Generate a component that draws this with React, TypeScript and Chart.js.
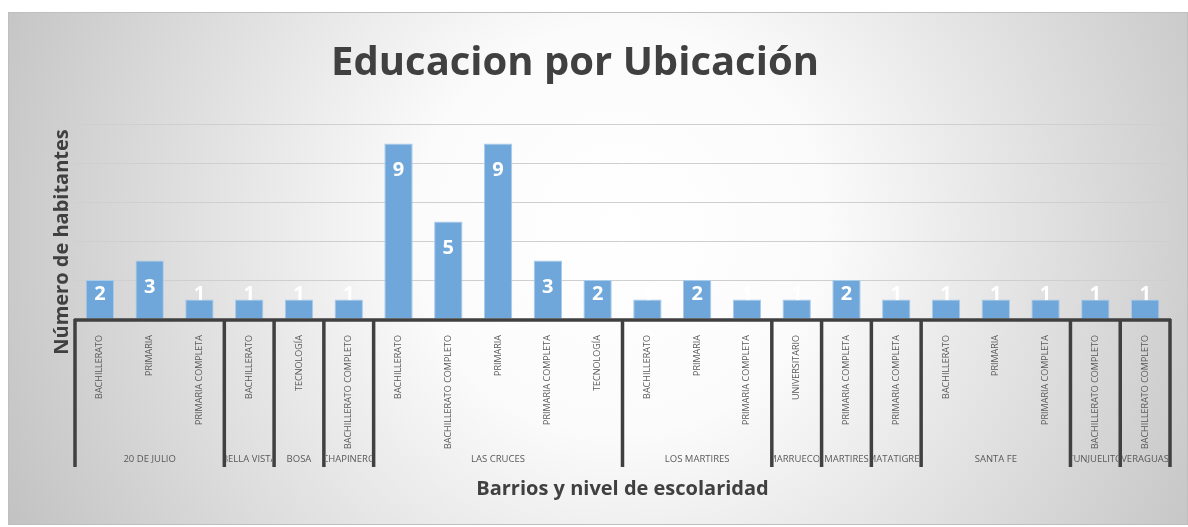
import React, { useEffect, useRef } from "react";
import { Chart, registerables } from "chart.js";

Chart.register(...registerables);

const chartTitle = "Educacion por Ubicación";
const yAxisTitle = "Número de habitantes";
const xAxisTitle = "Barrios y nivel de escolaridad";

const barrios = [
  "20 DE JULIO",
  "BELLA VISTA",
  "BOSA",
  "CHAPINERO",
  "LAS CRUCES",
  "LOS MARTIRES",
  "MARRUECOS",
  "MARTIRES",
  "MATATIGRES",
  "SANTA FE",
  "TUNJUELITO",
  "VERAGUAS",
];
const barriosSize = [3, 1, 1, 1, 5, 3, 1, 1, 1, 3, 1, 1];

const niveles = [
  "BACHILLERATO",
  "PRIMARIA",
  "PRIMARIA COMPLETA",
  "BACHILLERATO",
  "TECNOLOGÍA",
  "BACHILLERATO COMPLETO",
  "BACHILLERATO",
  "BACHILLERATO COMPLETO",
  "PRIMARIA",
  "PRIMARIA COMPLETA",
  "TECNOLOGÍA",
  "BACHILLERATO",
  "PRIMARIA",
  "PRIMARIA COMPLETA",
  "UNIVERSITARIO",
  "PRIMARIA COMPLETA",
  "PRIMARIA COMPLETA",
  "BACHILLERATO",
  "PRIMARIA",
  "PRIMARIA COMPLETA",
  "BACHILLERATO COMPLETO",
  "BACHILLERATO COMPLETO",
];
const habitantes = [2, 3, 1, 1, 1, 1, 9, 5, 9, 3, 2, 1, 2, 1, 1, 2, 1, 1, 1, 1, 1, 1];

const yMin = 0;
const yMax = 10;
const yStep = 2;

const FONT = "'Open Sans', 'DejaVu Sans', sans-serif";
const W = 1180;
const H = 513;

const framePlugin = {
  id: "frame",
  beforeDraw(chart: any) {
    const { ctx, width, height } = chart;
    ctx.save();
    const g = ctx.createRadialGradient(612, 218, 0, 612, 218, 680);
    g.addColorStop(0, "#ffffff");
    g.addColorStop(0.3, "#fbfbfb");
    g.addColorStop(1, "#c2c2c2");
    ctx.fillStyle = g;
    ctx.fillRect(0, 0, width, height);
    ctx.strokeStyle = "#bfbfbf";
    ctx.lineWidth = 1;
    ctx.strokeRect(0.5, 0.5, width - 1, height - 1);
    ctx.restore();
  },
};

const labelsPlugin = {
  id: "barLabels",
  afterDatasetsDraw(chart: any) {
    const { ctx } = chart;
    const meta = chart.getDatasetMeta(0);
    ctx.save();
    ctx.fillStyle = "#ffffff";
    ctx.font = `bold 20px ${FONT}`;
    ctx.textAlign = "center";
    ctx.textBaseline = "middle";
    meta.data.forEach((bar: any, i: number) => {
      const y = Math.min(bar.y + 27, bar.base - 24);
      ctx.fillText(String(habitantes[i]), bar.x, y);
    });
    ctx.restore();
  },
};

const axisPlugin = {
  id: "multiAxis",
  afterDraw(chart: any) {
    const { ctx, chartArea } = chart;
    const xs = chart.scales.x;
    const n = niveles.length;
    const half = (chartArea.right - chartArea.left) / n / 2;
    const boundary = (k: number) => {
      if (k <= 0) return chartArea.left;
      if (k >= n) return chartArea.right;
      return xs.getPixelForValue(k) - half;
    };
    ctx.save();
    ctx.strokeStyle = "#404040";
    ctx.lineWidth = 3.5;
    ctx.beginPath();
    ctx.moveTo(chartArea.left - 1, chartArea.bottom + 1);
    ctx.lineTo(chartArea.right + 1, chartArea.bottom + 1);
    ctx.stroke();

    const sepBottom = 455;
    let k = 0;
    const bounds: number[] = [boundary(0)];
    barriosSize.forEach((s) => {
      k += s;
      bounds.push(boundary(k));
    });
    ctx.lineWidth = 3.5;
    bounds.forEach((bx) => {
      ctx.beginPath();
      ctx.moveTo(bx, chartArea.bottom);
      ctx.lineTo(bx, sepBottom);
      ctx.stroke();
    });

    ctx.font = `9.5px ${FONT}`;
    ctx.fillStyle = "#595959";
    ctx.textAlign = "center";
    ctx.textBaseline = "middle";
    barrios.forEach((b, i) => {
      const x0 = bounds[i] + 2;
      const x1 = bounds[i + 1] - 2;
      ctx.save();
      ctx.beginPath();
      ctx.rect(x0, chartArea.bottom, x1 - x0, sepBottom - chartArea.bottom);
      ctx.clip();
      ctx.fillText(b, (bounds[i] + bounds[i + 1]) / 2, 447);
      ctx.restore();
    });

    // titles
    ctx.fillStyle = "#404040";
    ctx.textAlign = "center";
    ctx.font = `bold 40px ${FONT}`;
    ctx.textBaseline = "alphabetic";
    ctx.fillText(chartTitle, 567, 63);

    ctx.font = `bold 20px ${FONT}`;
    ctx.textBaseline = "middle";
    ctx.fillText(xAxisTitle, (chartArea.left + chartArea.right) / 2, 477);

    ctx.save();
    ctx.translate(54, 230);
    ctx.rotate(-Math.PI / 2);
    ctx.font = `bold 20px ${FONT}`;
    ctx.fillText(yAxisTitle, 0, 0);
    ctx.restore();

    ctx.restore();
  },
};

export default function App() {
  const ref = useRef<HTMLCanvasElement>(null);
  useEffect(() => {
    const chart = new Chart(ref.current as HTMLCanvasElement, {
      type: "bar",
      data: {
        labels: niveles,
        datasets: [
          {
            data: habitantes,
            backgroundColor: "#70a7da",
            borderColor: "#a9cbea",
            borderWidth: 1,
            barPercentage: 0.57,
            categoryPercentage: 1,
          },
        ],
      },
      options: {
        responsive: false,
        animation: false,
        devicePixelRatio: 1,
        layout: { padding: { left: 67, right: 18, top: 112, bottom: 0 } },
        plugins: {
          legend: { display: false },
          tooltip: { enabled: false },
          title: { display: false },
        },
        scales: {
          x: {
            grid: { display: false },
            border: { display: false },
            ticks: {
              autoSkip: false,
              maxRotation: 90,
              minRotation: 90,
              padding: 8,
              color: "#595959",
              font: { family: FONT, size: 9 },
            },
            afterFit: (s: any) => {
              s.height = 206;
            },
          },
          y: {
            min: yMin,
            max: yMax,
            grid: { color: "#cfcfcf", drawTicks: false },
            border: { display: false },
            ticks: { display: false, stepSize: yStep },
            afterFit: (s: any) => {
              s.width = 0;
            },
          },
        },
      } as any,
      plugins: [framePlugin, labelsPlugin, axisPlugin],
    });
    return () => chart.destroy();
  }, []);
  return (
    <div style={{ position: "fixed", left: 8, top: 12, width: W, height: H }}>
      <canvas ref={ref} width={W} height={H} style={{ display: "block", width: W, height: H }} />
    </div>
  );
}
